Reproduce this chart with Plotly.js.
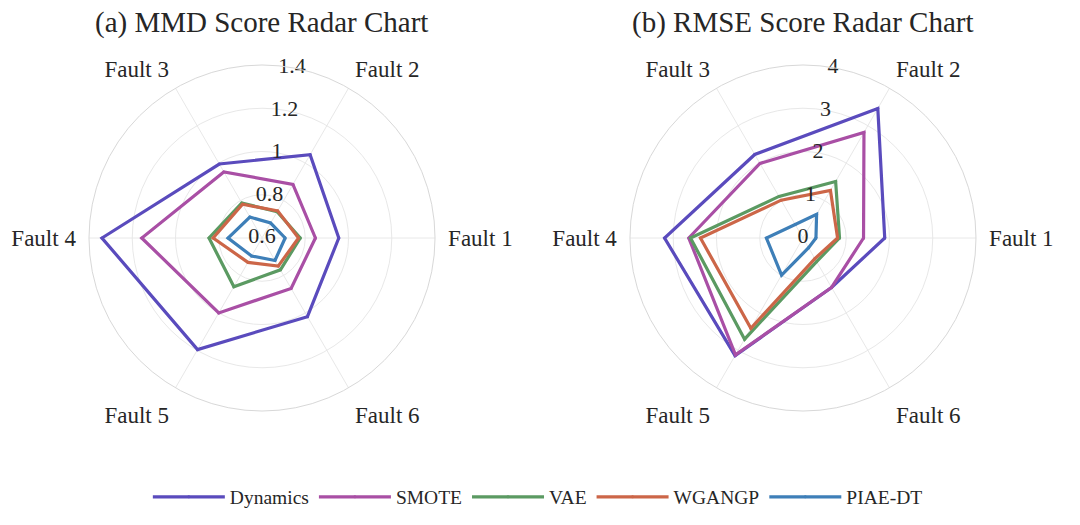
<!DOCTYPE html>
<html>
<head>
<meta charset="utf-8">
<script src="https://cdn.plot.ly/plotly-3.0.1.min.js"></script>
<style>
  html, body { margin: 0; padding: 0; background: #fff; }
  #chart { width: 1080px; height: 525px; }
</style>
</head>
<body>
<div id="chart"></div>
<script>
// Radar charts: MMD (left) and RMSE (right) scores per fault type.
const faults = ["Fault 1", "Fault 2", "Fault 3", "Fault 4", "Fault 5", "Fault 6"];
const methods = ["Dynamics", "SMOTE", "VAE", "WGANGP", "PIAE-DT"];

// MMD scores, one value per fault
const mmdDynamics = [0.955, 1.045, 0.995, 1.34, 1.196, 1.02];
const mmdSmote = [0.847, 0.886, 0.953, 1.156, 1.0, 0.869];
const mmdVae = [0.777, 0.74, 0.787, 0.845, 0.86, 0.77];
const mmdWgangp = [0.769, 0.745, 0.78, 0.826, 0.73, 0.75];
const mmdPiae = [0.707, 0.68, 0.712, 0.757, 0.696, 0.72];

// RMSE scores, one value per fault
const rmseDynamics = [1.89, 3.46, 2.23, 3.2, 3.14, 1.32];
const rmseSmote = [1.4, 2.82, 1.99, 2.64, 3.12, 1.32];
const rmseVae = [0.845, 1.51, 1.11, 2.6, 2.7, 0.63];
const rmseWgangp = [0.8, 1.27, 1.01, 2.37, 2.41, 0.55];
const rmsePiae = [0.3, 0.63, 0.36, 0.845, 0.99, 0.26];

// radial tick labels
const mmdTicks = [0.6, 0.8, 1, 1.2, 1.4];
const rmseTicks = [0, 1, 2, 3, 4];

const COLORS = {
  "Dynamics": "#5a4bbd",
  "SMOTE": "#a94fa5",
  "VAE": "#5b9a62",
  "WGANGP": "#cc6648",
  "PIAE-DT": "#3e7fb8",
};

const FONT = "Liberation Serif, Times New Roman, serif";
const TEXT_COLOR = "#262626";
const GRID_COLOR = "#e8e8e8";
const TICK_ANGLE = 80; // radial tick labels sit along this direction

// faults are spread evenly round the circle
const faultAngles = faults.map((_, i) => (360 * i) / faults.length);

// close the polygon by repeating the first point
function radarTrace(name, values, subplot, showlegend) {
  return {
    type: "scatterpolar",
    mode: "lines+markers",
    name: name,
    r: values.concat(values[0]),
    theta: faultAngles.concat(faultAngles[0]),
    subplot: subplot,
    showlegend: showlegend,
    line: { color: COLORS[name], width: 3.2 },
    marker: { color: COLORS[name], size: 3 },
    hovertemplate: name + ": %{r}<extra></extra>",
  };
}

// horizontal tick labels centred on the radial axis line
function tickLabels(ticks, subplot) {
  return {
    type: "scatterpolar",
    mode: "text",
    r: ticks,
    theta: ticks.map(() => TICK_ANGLE),
    text: ticks.map(String),
    textposition: "middle center",
    textfont: { family: FONT, size: 22, color: TEXT_COLOR },
    subplot: subplot,
    showlegend: false,
    hoverinfo: "skip",
    cliponaxis: false,
  };
}

const mmdSeries = [mmdDynamics, mmdSmote, mmdVae, mmdWgangp, mmdPiae];
const rmseSeries = [rmseDynamics, rmseSmote, rmseVae, rmseWgangp, rmsePiae];

const traces = [];
methods.forEach((m, i) => traces.push(radarTrace(m, mmdSeries[i], "polar", true)));
methods.forEach((m, i) => traces.push(radarTrace(m, rmseSeries[i], "polar2", false)));
traces.push(tickLabels(mmdTicks, "polar"));
traces.push(tickLabels(rmseTicks, "polar2"));

function polarAxes(ticks, domainX) {
  return {
    domain: { x: domainX, y: [0.2171, 0.8762] },
    bgcolor: "#fff",
    angularaxis: {
      type: "linear",
      thetaunit: "degrees",
      tickmode: "array",
      tickvals: faultAngles,
      ticktext: faults,
      rotation: 0,
      direction: "counterclockwise",
      gridcolor: GRID_COLOR,
      linecolor: "#d8d8d8",
      ticks: "outside",
      ticklen: 8,
      tickcolor: "rgba(0,0,0,0)",
      tickfont: { size: 23, color: TEXT_COLOR },
    },
    radialaxis: {
      range: [ticks[0], ticks[ticks.length - 1]],
      tickmode: "array",
      tickvals: ticks,
      angle: TICK_ANGLE,
      showline: false,
      showticklabels: false,
      ticks: "",
      gridcolor: GRID_COLOR,
    },
  };
}

const layout = {
  width: 1080,
  height: 525,
  margin: { t: 0, r: 0, b: 0, l: 0 },
  paper_bgcolor: "#fff",
  font: { family: FONT, color: TEXT_COLOR },
  polar: polarAxes(mmdTicks, [0.0824, 0.4028]),
  polar2: polarAxes(rmseTicks, [0.5833, 0.9037]),
  showlegend: true,
  legend: {
    orientation: "h",
    x: 0.498, xanchor: "center",
    y: 0.053, yanchor: "middle",
    itemwidth: 72,
    font: { size: 19.5, color: TEXT_COLOR },
  },
  annotations: [
    {
      text: "(a) MMD Score Radar Chart",
      xref: "paper", yref: "paper",
      x: 0.242, y: 0.958, xanchor: "center", yanchor: "middle",
      showarrow: false,
      font: { size: 29, color: TEXT_COLOR },
    },
    {
      text: "(b) RMSE Score Radar Chart",
      xref: "paper", yref: "paper",
      x: 0.7435, y: 0.958, xanchor: "center", yanchor: "middle",
      showarrow: false,
      font: { size: 29, color: TEXT_COLOR },
    },
  ],
};

Plotly.newPlot("chart", traces, layout, { displayModeBar: false, responsive: false });
</script>
</body>
</html>
